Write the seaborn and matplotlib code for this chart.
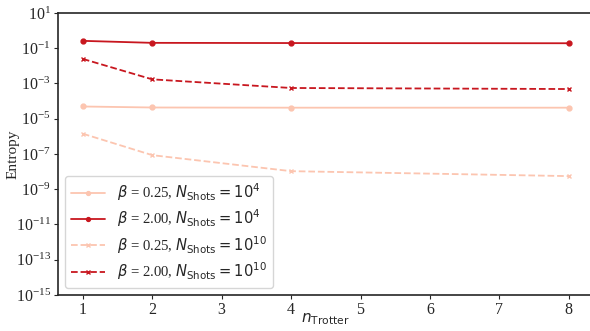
import numpy as np
import pandas as pd
import matplotlib
matplotlib.use("Agg")
import matplotlib.pyplot as plt
import seaborn as sns

n_trotter = [1, 2, 4, 8]
s_b025_n4 = [4.9e-5, 4.3e-5, 4.2e-5, 4.2e-5]
s_b200_n4 = [0.26, 0.20, 0.195, 0.19]
s_b025_n10 = [1.4e-6, 8.5e-8, 1.05e-8, 5.5e-9]
s_b200_n10 = [2.45e-2, 1.7e-3, 5.5e-4, 4.8e-4]

LIGHT = "#fcc5b0"
DARK = "#c8171f"

sns.set_style("ticks")
plt.rcParams["font.family"] = ["Liberation Serif", "DejaVu Serif"]
plt.rcParams["mathtext.fontset"] = "dejavusans"

fig = plt.figure(figsize=(5.9, 3.31), dpi=100)
ax = fig.add_axes([0.098, 0.109, 0.905, 0.852])

series = [
    (s_b025_n4, LIGHT, "-", "o", r"$\beta$ = 0.25, $N_{\mathrm{Shots}}=10^4$"),
    (s_b200_n4, DARK, "-", "o", r"$\beta$ = 2.00, $N_{\mathrm{Shots}}=10^4$"),
    (s_b025_n10, LIGHT, "--", "x", r"$\beta$ = 0.25, $N_{\mathrm{Shots}}=10^{10}$"),
    (s_b200_n10, DARK, "--", "x", r"$\beta$ = 2.00, $N_{\mathrm{Shots}}=10^{10}$"),
]
for vals, col, ls, mk, lab in series:
    df = pd.DataFrame({"n": n_trotter, "S": vals})
    sns.lineplot(data=df, x="n", y="S", color=col, linestyle=ls, marker=mk,
                 markersize=3.5, markeredgecolor=col, markeredgewidth=1.0,
                 linewidth=1.3, label=lab, ax=ax)

ax.set_yscale("log")
ax.set_ylim(1e-15, 1e1)
ax.set_yticks([10.0**k for k in range(1, -16, -2)])
ax.minorticks_off()
ax.set_xlim(0.64, 8.33)
ax.set_xticks(range(1, 9))
ax.tick_params(labelsize=11.5, length=3, pad=2)
ax.set_xlabel(r"$n_{\mathrm{Trotter}}$", fontsize=11)
ax.xaxis.set_label_coords(0.5, -0.058)
ax.set_ylabel("Entropy", fontsize=11)
ax.yaxis.set_label_coords(-0.072, 0.5)
for s in ax.spines.values():
    s.set_linewidth(1.2)
ax.legend(loc="lower left", fontsize=10.6, frameon=True, labelspacing=0.3,
          handlelength=2.3, borderaxespad=0.5, markerscale=0.8)

fig.savefig("out.png", dpi=100)
